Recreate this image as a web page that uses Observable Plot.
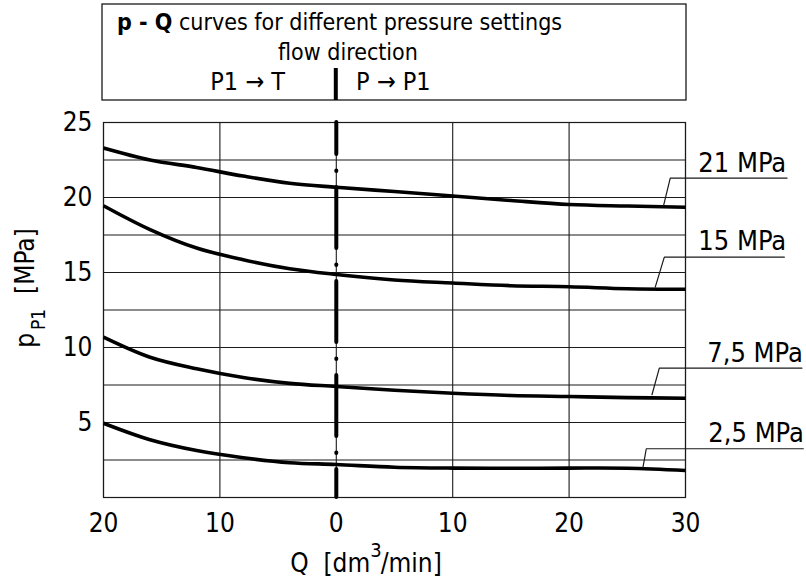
<!DOCTYPE html>
<html><head><meta charset="utf-8">
<script src="https://cdn.jsdelivr.net/npm/d3@7"></script>
<script src="https://cdn.jsdelivr.net/npm/@observablehq/plot@0.6"></script>
<style>
html,body{margin:0;padding:0;background:#fff;}
#chart{position:relative;width:806px;height:580px;}
</style>
</head><body>
<div id="chart"></div>
<script>
// ---- data ----
const Q = [-20, -16, -12, -8, -4, 0, 5, 10, 15, 20, 25, 30];
const seriesNames = ["21 MPa", "15 MPa", "7,5 MPa", "2,5 MPa"];
const p21 = [23.3, 22.5, 22.0, 21.43, 20.95, 20.68, 20.4, 20.1, 19.8, 19.53, 19.43, 19.35];
const p15 = [19.45, 17.86, 16.63, 15.85, 15.25, 14.87, 14.5, 14.3, 14.12, 14.05, 13.92, 13.88];
const p75 = [10.69, 9.35, 8.58, 8.0, 7.61, 7.4, 7.15, 6.95, 6.8, 6.73, 6.66, 6.62];
const p25 = [4.95, 3.85, 3.13, 2.65, 2.32, 2.2, 2.02, 1.96, 1.95, 1.96, 1.95, 1.8];
const xTicks = [-20, -10, 0, 10, 20, 30];
const yTicks = [5, 10, 15, 20, 25];
const yGrid = [0, 2.5, 5, 7.5, 10, 12.5, 15, 17.5, 20, 22.5, 25];
// label annotations (data units)
const leaderQ = [[28.12, 28.69, 38.72], [27.4, 28.18, 38.49], [27.12, 27.75, 40.0], [26.35, 26.63, 40.12]];
const leaderP = [[19.47, 21.29, 21.29], [14.02, 16.02, 16.02], [6.85, 8.62, 8.62], [2.02, 3.25, 3.25]];
const labelQ = [31.1, 31.1, 31.87, 31.96];
const labelP = [22.3, 17.08, 9.63, 4.27];

const FONT = '"DejaVu Sans Condensed", "Roboto Condensed", Roboto, sans-serif';

const series = [p21, p15, p75, p25];
const rows = seriesNames.flatMap((s, i) => Q.map((q, j) => ({s, q, p: series[i][j]})));
const leaders = seriesNames.flatMap((s, i) => leaderQ[i].map((q, j) => ({s, q, p: leaderP[i][j]})));
const labels = seriesNames.map((s, i) => ({s, q: labelQ[i], p: labelP[i]}));

const plot = Plot.plot({
  width: 806, height: 580,
  marginLeft: 103, marginRight: 121, marginTop: 122, marginBottom: 83,
  style: {fontFamily: FONT, background: "#fff", color: "#000"},
  x: {domain: [-20, 30]},
  y: {domain: [0, 25]},
  marks: [
    Plot.ruleX(xTicks, {stroke: "#1a1a1a", strokeWidth: 1.1}),
    Plot.ruleY(yGrid, {stroke: "#1a1a1a", strokeWidth: 1.1}),
    Plot.frame({stroke: "#1a1a1a", strokeWidth: 1.2}),
    Plot.ruleX([0], {y1: 25, y2: 0, stroke: "#000", strokeWidth: 4, strokeLinecap: "round",
      strokeDasharray: "61,16.5,0.5,16", strokeDashoffset: 29}),
    Plot.line(rows, {x: "q", y: "p", z: "s", curve: "catmull-rom", stroke: "#000", strokeWidth: 3.6, strokeLinecap: "butt"}),
    Plot.line(leaders, {x: "q", y: "p", z: "s", stroke: "#1a1a1a", strokeWidth: 1.2}),
    Plot.text(labels, {x: "q", y: "p", text: "s", textAnchor: "start", fontSize: 27, fill: "#000"}),
    Plot.axisX(xTicks, {tickSize: 0, tickPadding: 16, fontSize: 26, tickFormat: d => Math.abs(d), label: null}),
    Plot.axisY(yTicks, {tickSize: 0, tickPadding: 11, fontSize: 26, label: null})
  ]
});
document.getElementById("chart").appendChild(plot);

// ---- title box, axis titles ----
const svg = d3.select(plot);
const x0 = plot.scale("x").apply(0);
const box = svg.append("g").attr("font-family", FONT).attr("fill", "#000");
box.append("rect").attr("x", 102).attr("y", 4).attr("width", 584).attr("height", 96)
  .attr("fill", "none").attr("stroke", "#1a1a1a").attr("stroke-width", 1.3);
const t1 = box.append("text").attr("x", 117).attr("y", 30).attr("font-size", 23)
  .attr("text-anchor", "start").style("white-space", "pre");
t1.append("tspan").attr("font-weight", "bold").text("p - Q");
t1.append("tspan").text(" curves for different pressure settings");
box.append("text").attr("x", 348).attr("y", 60).attr("font-size", 23).attr("text-anchor", "middle").text("flow direction");
box.append("text").attr("x", 285).attr("y", 90).attr("font-size", 25).attr("text-anchor", "end").text("P1 \u2192 T");
box.append("text").attr("x", 356).attr("y", 90).attr("font-size", 25).attr("text-anchor", "start").text("P \u2192 P1");
box.append("line").attr("x1", x0).attr("x2", x0).attr("y1", 68).attr("y2", 100).attr("stroke", "#000").attr("stroke-width", 4);

const xl = svg.append("text").attr("x", 366).attr("y", 572).attr("font-family", FONT).attr("font-size", 26)
  .attr("text-anchor", "middle").style("white-space", "pre");
xl.append("tspan").text("Q  [dm");
xl.append("tspan").attr("dy", -15).attr("font-size", 20).text("3");
xl.append("tspan").attr("dy", 15).attr("dx", -1).text("/min]");

const yl = svg.append("text").attr("transform", "translate(34,288) rotate(-90)").attr("font-family", FONT)
  .attr("font-size", 26).attr("text-anchor", "middle").style("white-space", "pre");
yl.append("tspan").text("p");
yl.append("tspan").attr("dy", 11).attr("dx", 3).attr("font-size", 19).text("P1");
yl.append("tspan").attr("dy", -11).text("  [MPa]");
</script>
</body></html>
